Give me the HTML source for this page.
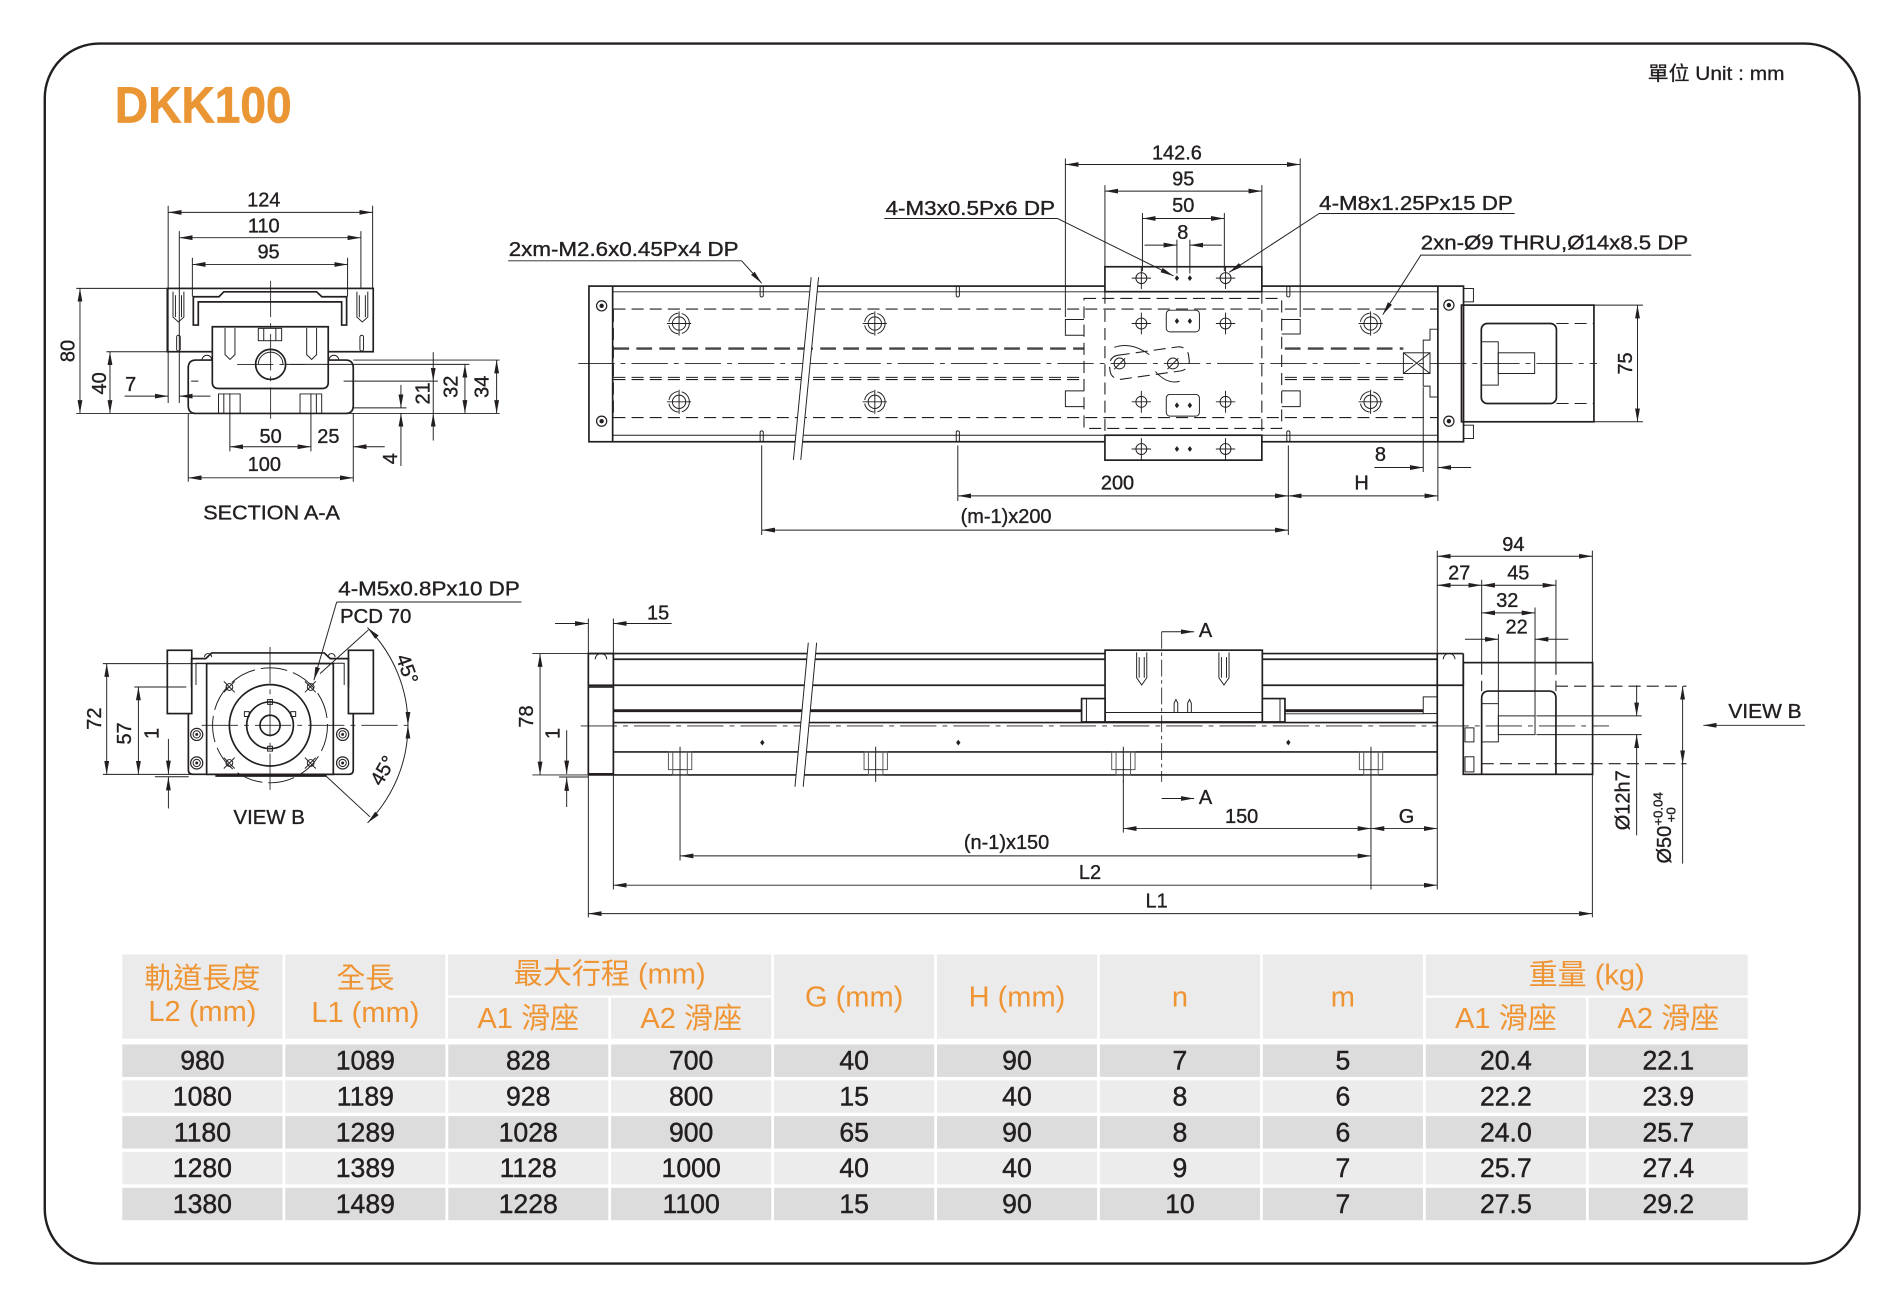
<!DOCTYPE html>
<html><head><meta charset="utf-8">
<style>
html,body{margin:0;padding:0;background:#fff;}
svg{display:block}
text{font-family:"Liberation Sans","Noto Sans CJK TC",sans-serif;fill:#231f20}
.d{font-size:16.5px;text-anchor:middle;dominant-baseline:central;stroke:#231f20;stroke-width:0.3}
.l{font-size:16.5px;stroke:#231f20;stroke-width:0.3}
.o{fill:none;stroke:#231f20;stroke-width:1.4}
.ow{fill:#fff;stroke:#231f20;stroke-width:1.4}
.n{fill:none;stroke:#231f20;stroke-width:0.8}
.g{fill:none;stroke:#555;stroke-width:0.8}
.h{fill:none;stroke:#231f20;stroke-width:0.9;stroke-dasharray:10 5}
.hb{fill:none;stroke:#444;stroke-width:1.9;stroke-dasharray:13 6}
.c{fill:none;stroke:#231f20;stroke-width:0.7;stroke-dasharray:30 5 4 5}
.dm{fill:none;stroke:#231f20;stroke-width:0.8;marker-start:url(#a);marker-end:url(#a)}
.de{fill:none;stroke:#231f20;stroke-width:0.8;marker-end:url(#a)}
.th{font-size:24px;fill:#ef9433;text-anchor:middle;dominant-baseline:central}
.td{font-size:22px;text-anchor:middle;dominant-baseline:central;stroke:#231f20;stroke-width:0.35}
</style></head><body>
<svg width="1897" height="1295" viewBox="0 0 1568 1070" preserveAspectRatio="none" xmlns="http://www.w3.org/2000/svg">
<defs>
<marker id="a" markerUnits="userSpaceOnUse" markerWidth="12" markerHeight="5" refX="11" refY="2" orient="auto-start-reverse"><path d="M0,0L11,2L0,4z" fill="#231f20"/></marker>
<g id="mh" fill="none" stroke="#231f20" stroke-width="0.8"><circle r="5.5"/><circle r="8.5" stroke-dasharray="11 3"/><path d="M-10,0H10M0,-10V10"/></g>
<g id="ch" fill="none" stroke="#231f20" stroke-width="0.8"><circle r="4.5"/><path d="M-8,0H8M0,-9V9"/></g>
<g id="sc"><circle r="4.2" fill="none" stroke="#231f20" stroke-width="1"/><circle r="1.8" fill="#231f20"/></g>
<g id="sc2"><circle r="5" fill="none" stroke="#231f20" stroke-width="1"/><circle r="3" fill="none" stroke="#231f20" stroke-width="0.8"/><circle r="1.2" fill="#231f20"/></g>
<path id="dd" d="M0,-2.4L1.8,0L0,2.4L-1.8,0z" fill="#231f20"/>
<g id="bolt" fill="none" stroke="#555" stroke-width="0.8"><rect x="-9.6" y="0" width="19.3" height="14.6"/><path d="M-6,0V14.6M6,0V14.6"/><rect x="-6" y="14.6" width="12" height="4.4"/></g>
</defs>

<!-- border -->
<rect x="37" y="36" width="1500" height="1008" rx="45" fill="none" stroke="#231f20" stroke-width="2"/>
<text x="95" y="101.4" font-size="42" font-weight="bold" style="fill:#ea9634;stroke:#ea9634;stroke-width:0.6" textLength="146" lengthAdjust="spacingAndGlyphs">DKK100</text>
<text x="1362" y="66" font-size="16" style="stroke:#231f20;stroke-width:0.25" textLength="113" lengthAdjust="spacingAndGlyphs">單位 Unit : mm</text>

<!-- ================= SECTION A-A ================= -->
<g>
<path class="n" d="M139,170V333M308,170V238M148.2,191V333M298.3,191V238M159,213V245M287.3,213V245"/>
<line class="dm" x1="139" y1="175.5" x2="308" y2="175.5"/>
<line class="dm" x1="148.2" y1="196.4" x2="298.3" y2="196.4"/>
<line class="dm" x1="159" y1="218.5" x2="287.3" y2="218.5"/>
<text class="d" x="218" y="165.5">124</text>
<text class="d" x="218" y="187">110</text>
<text class="d" x="222" y="208.5">95</text>
<!-- block -->
<rect class="o" x="138.3" y="238.3" width="170.2" height="52.3"/>
<path class="o" d="M159.8,268.6V245.2H181L185,241.1H261.7L266,245.2H286.5V268.6H282.4V249.4H163.9V268.6Z"/>
<path class="n" d="M143,241V262L147.5,266L152,262V241M145,244V262M150,244V262"/>
<path class="n" d="M295,241V262L299.5,266L304,262V241M297,244V262M302,244V262"/>
<rect class="n" x="146" y="277" width="3" height="13" rx="1.5"/>
<rect class="n" x="297.5" y="277" width="3" height="13" rx="1.5"/>
<!-- base -->
<path class="o" d="M175.5,297.5H162Q155.6,297.5 155.6,304V335Q155.6,341.6 162,341.6H285.6Q292,341.6 292,335V304Q292,297.5 285.6,297.5H271.3"/>
<path class="n" d="M167,297.5A4,4 0 0 1 175,297.5M272,297.5A4,4 0 0 1 280,297.5M158,314.9H164M284,314.9H290"/>
<path class="n" d="M180.6,341.6V325.5H198.5V341.6M185,325.5V341.6M248,341.6V325.5H265.9V341.6M261.5,325.5V341.6"/>
<!-- flange -->
<path class="ow" d="M175.5,270H271.3V316Q271.3,321 266,321H181Q175.5,321 175.5,316Z"/>
<rect class="n" x="213.5" y="271.3" width="19.3" height="10.2"/>
<path class="n" d="M218,271.3V281.5M228,271.3V281.5"/>
<path class="n" d="M186,271V293L190.1,297L194.2,293V271M253.5,271V293L257.6,297L261.7,293V271"/>
<circle class="o" cx="223.7" cy="301.1" r="12.4"/>
<path class="n" d="M213.5,301.1A10.2,10.2 0 0 1 233.9,301.1"/>
<path class="c" d="M223.7,232V346M196,301.1H252"/>
<!-- left dims -->
<path class="n" d="M63,238.3H138M88,290.6H138M63,341.6H413"/>
<line class="dm" x1="66.1" y1="238.3" x2="66.1" y2="341.6"/>
<line class="dm" x1="90.9" y1="290.6" x2="90.9" y2="341.6"/>
<text class="d" transform="rotate(-90 56.5 290)" x="56.5" y="290">80</text>
<text class="d" transform="rotate(-90 82.7 316.8)" x="82.7" y="316.8">40</text>
<line class="de" x1="103" y1="327.3" x2="139" y2="327.3"/>
<line class="de" x1="174" y1="327.3" x2="148.2" y2="327.3"/>
<text class="d" x="108" y="318">7</text>
<!-- right dims -->
<path class="n" d="M292,297.5H413M236,301.1H388M290,314.9H362M292,337H336"/>
<line class="de" x1="331.4" y1="318" x2="331.4" y2="337"/>
<line class="de" x1="331.4" y1="385" x2="331.4" y2="341.6"/>
<text class="d" transform="rotate(-90 323 379)" x="323" y="379">4</text>
<line class="de" x1="358.1" y1="291" x2="358.1" y2="314.9"/>
<line class="de" x1="358.1" y1="364" x2="358.1" y2="341.6"/>
<line class="n" x1="358.1" y1="314.9" x2="358.1" y2="341.6"/>
<text class="d" transform="rotate(-90 349.9 325)" x="349.9" y="325">21</text>
<line class="dm" x1="384.3" y1="301.1" x2="384.3" y2="341.6"/>
<text class="d" transform="rotate(-90 373.3 319.6)" x="373.3" y="319.6">32</text>
<line class="dm" x1="410.5" y1="297.5" x2="410.5" y2="341.6"/>
<text class="d" transform="rotate(-90 398.9 319.6)" x="398.9" y="319.6">34</text>
<!-- bottom dims -->
<path class="n" d="M190,325V373M257,325V373M292,341.6V398M155.6,341.6V398"/>
<line class="dm" x1="190" y1="369.1" x2="257" y2="369.1"/>
<line class="de" x1="318" y1="369.1" x2="292" y2="369.1"/>
<text class="d" x="223.7" y="360.9">50</text>
<text class="d" x="271.4" y="360.9">25</text>
<line class="dm" x1="155.6" y1="394.8" x2="292" y2="394.8"/>
<text class="d" x="218.5" y="384.3">100</text>
<text class="d" x="224.5" y="424.2" font-size="16" textLength="113" lengthAdjust="spacingAndGlyphs">SECTION A-A</text>
</g>

<!-- ================= TOP VIEW ================= -->
<g>
<rect class="o" x="486.8" y="236.4" width="722.9" height="128.6"/>
<path class="o" d="M506.4,236.4V365M1188.5,236.4V365"/>
<path class="n" d="M506.4,241.1H1188.5M506.4,359.6H1188.5"/>
<rect class="n" x="1209.7" y="238.4" width="8.2" height="11"/>
<rect class="n" x="1209.7" y="351.3" width="8.2" height="11"/>
<use href="#sc" x="497.3" y="252.7"/><use href="#sc" x="497.3" y="348"/>
<use href="#sc" x="1197.6" y="252.1"/><use href="#sc" x="1197.6" y="348"/>
<!-- hidden -->
<path class="h" d="M507,255.4H1188M507,345H1188M507,256V345"/>
<path class="hb" d="M507,288H896M1062,288H1160"/>
<path class="h" d="M507,311.8H896M507,313.6H896M1062,311.8H1160M1062,313.6H1160"/>
<path class="c" d="M478,300.3H1320"/>
<use href="#mh" x="561.3" y="267.3"/><use href="#mh" x="561.3" y="332"/>
<use href="#mh" x="723.1" y="267.3"/><use href="#mh" x="723.1" y="332"/>
<use href="#mh" x="1132.9" y="267.3"/><use href="#mh" x="1132.9" y="332"/>
<g class="n">
<rect x="628.3" y="236.4" width="2.6" height="9" rx="1.3"/><rect x="628.3" y="356" width="2.6" height="9" rx="1.3"/>
<rect x="790.4" y="236.4" width="2.6" height="9" rx="1.3"/><rect x="790.4" y="356" width="2.6" height="9" rx="1.3"/>
<rect x="1063.6" y="236.4" width="2.6" height="9" rx="1.3"/><rect x="1063.6" y="356" width="2.6" height="9" rx="1.3"/>
</g>
<!-- break -->
<polygon points="670.5,229 676.6,229 661.9,380 655.8,380" fill="#fff"/>
<path class="n" d="M670.5,229L655.8,380M676.6,229L661.9,380"/>
<!-- carriage -->
<rect class="ow" x="913.3" y="220.4" width="129.7" height="20.6"/>
<rect class="ow" x="913.3" y="359.6" width="129.7" height="20.6"/>
<use href="#ch" x="943.4" y="229.8"/><use href="#ch" x="1013" y="229.8"/>
<use href="#ch" x="943.4" y="371"/><use href="#ch" x="1013" y="371"/>
<use href="#dd" x="972.8" y="229.8"/><use href="#dd" x="983.5" y="229.8"/>
<use href="#dd" x="972.8" y="371"/><use href="#dd" x="983.5" y="371"/>
<path class="h" d="M913.3,241V359.6M1043,241V359.6"/>
<rect class="h" x="896" y="246.6" width="163.4" height="107.4"/>
<path class="n" d="M896,264H880.6V277H896M896,323H880.6V336H896M1059.4,264H1074.7V276H1059.4M1059.4,323H1074.7V336H1059.4"/>
<use href="#ch" x="943.4" y="267.3"/><use href="#ch" x="1013" y="267.3"/>
<use href="#ch" x="943.4" y="332"/><use href="#ch" x="1013" y="332"/>
<rect class="n" x="964" y="256.3" width="27.4" height="17.9" rx="3"/>
<rect class="n" x="964" y="325.9" width="27.4" height="17.9" rx="3"/>
<use href="#dd" x="972.8" y="265.3"/><use href="#dd" x="983.5" y="265.3"/>
<use href="#dd" x="972.8" y="334.9"/><use href="#dd" x="983.5" y="334.9"/>
<rect class="h" x="917" y="290" width="66" height="20" rx="8" transform="rotate(-8 950 300)"/>
<path class="n" d="M921,287Q935,282 950,293M955,307Q965,318 975,315"/>
<circle class="n" cx="925.4" cy="300.3" r="4.5"/><circle class="n" cx="969.5" cy="300.3" r="4.5"/>
<path class="n" d="M921,305L930,296M965,305L974,296"/>
<!-- bearing / bracket -->
<rect class="n" x="1160" y="291.5" width="22" height="17.1"/>
<path class="n" d="M1160,291.5L1182,308.6M1182,291.5L1160,308.6"/>
<path class="n" d="M1188.5,272H1182V281H1176.4V319H1182V328H1188.5"/>
<!-- motor -->
<rect class="o" x="1208" y="252.1" width="109.5" height="96.4"/>
<rect class="o" x="1224.4" y="267.3" width="62.1" height="66.1" rx="5"/>
<rect class="n" x="1224.4" y="282.4" width="14" height="35.8"/>
<rect class="n" x="1238.4" y="291.5" width="30.1" height="17.1"/>
<path class="h" d="M1286.5,267.3H1317.5M1286.5,333.4H1317.5"/>
<!-- dims -->
<path class="n" d="M880.6,131V262M1074.7,131V262M913.3,153V220.4M1043,153V220.4M944.3,176V224M1012,176V224M972.8,198V226M983.5,198V226"/>
<line class="dm" x1="880.6" y1="135.9" x2="1074.7" y2="135.9"/>
<line class="dm" x1="913.3" y1="157.9" x2="1043" y2="157.9"/>
<line class="dm" x1="944.3" y1="180.5" x2="1012" y2="180.5"/>
<line class="de" x1="946" y1="202.5" x2="972.8" y2="202.5"/>
<line class="de" x1="1010" y1="202.5" x2="983.5" y2="202.5"/>
<text class="d" x="972.8" y="126.8">142.6</text>
<text class="d" x="978" y="148.3">95</text>
<text class="d" x="978" y="170.3">50</text>
<text class="d" x="977.7" y="192.6">8</text>
<text class="l" x="732" y="177.7" textLength="140" lengthAdjust="spacingAndGlyphs">4-M3x0.5Px6 DP</text>
<path class="n" d="M731,180.5H874"/>
<line class="de" x1="874" y1="180.5" x2="970" y2="228"/>
<text class="l" x="1090.4" y="173.6" textLength="160" lengthAdjust="spacingAndGlyphs">4-M8x1.25Px15 DP</text>
<path class="n" d="M1090,176.4H1252"/>
<line class="de" x1="1090.4" y1="176.4" x2="1016" y2="225"/>
<text class="l" x="1174.4" y="206.1" textLength="221" lengthAdjust="spacingAndGlyphs">2xn-Ø9 THRU,Ø14x8.5 DP</text>
<path class="n" d="M1174,210.8H1398"/>
<line class="de" x1="1174.4" y1="210.8" x2="1143" y2="260"/>
<text class="l" x="420.5" y="211.6" textLength="190" lengthAdjust="spacingAndGlyphs">2xm-M2.6x0.45Px4 DP</text>
<path class="n" d="M420,215.5H613"/>
<line class="de" x1="613" y1="215.5" x2="629.6" y2="234"/>
<path class="n" d="M1317.5,252.1H1358M1317.5,348.5H1358"/>
<line class="dm" x1="1353.5" y1="252.1" x2="1353.5" y2="348.5"/>
<text class="d" transform="rotate(-90 1344 300.3)" x="1344" y="300.3">75</text>
<path class="n" d="M1176.4,320V390M1188.5,365V414M629.6,368V442M791.7,368V414M1064.9,368V442"/>
<line class="de" x1="1136" y1="386.3" x2="1176.4" y2="386.3"/>
<line class="de" x1="1216" y1="386.3" x2="1188.5" y2="386.3"/>
<text class="d" x="1141" y="376">8</text>
<line class="dm" x1="791.7" y1="409.7" x2="1064.9" y2="409.7"/>
<line class="dm" x1="1064.9" y1="409.7" x2="1188.5" y2="409.7"/>
<text class="d" x="923.7" y="399.5">200</text>
<text class="d" x="1125.4" y="399.5">H</text>
<line class="dm" x1="629.6" y1="438" x2="1064.9" y2="438"/>
<text class="d" x="831.6" y="427">(m-1)x200</text>
</g>

<!-- ================= VIEW B ================= -->
<g>
<rect class="o" x="138.3" y="537.3" width="20.2" height="52.3"/>
<rect class="o" x="288" y="537.3" width="20.6" height="52.3"/>
<path class="o" d="M158.4,568V544.2H170L175,539.5H268L273,544.2H288V568"/>
<path class="n" d="M162,566V548H284.5V566"/>
<path class="n" d="M169,543A3,3 0 0 1 175,543M271,543A3,3 0 0 1 277,543"/>
<path class="o" d="M155.7,589.6V636Q155.7,639.8 159.5,639.8H288.2Q292,639.8 292,636V589.6"/>
<rect class="o" x="170.8" y="548.3" width="104.7" height="91.5"/>
<path fill="none" stroke="#231f20" stroke-width="2.2" d="M178,640.8H270"/>
<circle cx="223.2" cy="599.3" r="47.5" fill="none" stroke="#231f20" stroke-width="0.8" stroke-dasharray="22 5"/>
<circle class="o" cx="223.2" cy="599.3" r="33.6"/>
<circle class="o" cx="223.2" cy="599.3" r="19.3"/>
<circle class="o" cx="223.2" cy="599.3" r="8.3"/>
<g class="n"><rect x="221.2" y="578" width="4" height="4"/><rect x="221.2" y="616.6" width="4" height="4"/><rect x="202" y="588" width="4" height="4"/><rect x="240.4" y="588" width="4" height="4"/></g>
<g class="n">
<circle cx="189.6" cy="567.6" r="2.8"/><circle cx="256.8" cy="567.6" r="2.8"/><circle cx="189.6" cy="630.4" r="2.8"/><circle cx="256.8" cy="630.4" r="2.8"/>
<path d="M185,563L194,572M194,563L185,572M252,563L261,572M261,563L252,572M185,626L194,635M194,626L185,635M252,626L261,635M261,626L252,635"/>
</g>
<use href="#sc2" x="162.6" y="606.8"/><use href="#sc2" x="162.6" y="630.4"/>
<use href="#sc2" x="283.2" y="606.8"/><use href="#sc2" x="283.2" y="630.4"/>
<path class="c" d="M223.2,534.6V653M166.7,599.3H339"/>
<!-- dims -->
<path class="n" d="M85,548.3H172M111,567.6H154M85,639.8H160M128,641.8H156"/>
<line class="dm" x1="88.2" y1="548.3" x2="88.2" y2="639.8"/>
<text class="d" transform="rotate(-90 78.5 593.8)" x="78.5" y="593.8">72</text>
<line class="dm" x1="114.4" y1="567.6" x2="114.4" y2="639.8"/>
<text class="d" transform="rotate(-90 103.3 606)" x="103.3" y="606">57</text>
<line class="de" x1="139.2" y1="610.5" x2="139.2" y2="639.5"/>
<line class="de" x1="139.2" y1="668" x2="139.2" y2="642"/>
<text class="d" transform="rotate(-90 126 606)" x="126" y="606">1</text>
<path class="n" d="M264.5,556.6L304.5,520.5M267.3,639.2L305.9,675"/>
<path class="dm" d="M303.8,518.7A114,114 0 0 1 337.2,599.3"/>
<path class="dm" d="M337.2,599.3A114,114 0 0 1 303.8,679.9"/>
<text class="d" transform="rotate(70 336 553)" x="336" y="553">45°</text>
<text class="d" transform="rotate(-60 317 637)" x="317" y="637">45°</text>
<text class="l" x="279.6" y="491.9" textLength="150" lengthAdjust="spacingAndGlyphs">4-M5x0.8Px10 DP</text>
<path class="n" d="M278.3,497.4H431"/>
<text class="l" x="281" y="514.7" textLength="59" lengthAdjust="spacingAndGlyphs">PCD 70</text>
<line class="de" x1="278.3" y1="497.4" x2="259.5" y2="562"/>
<text class="d" x="222.5" y="676" textLength="59" lengthAdjust="spacingAndGlyphs">VIEW B</text>
</g>

<!-- ================= SIDE VIEW ================= -->
<g>
<rect class="o" x="486.3" y="540" width="20.7" height="26.2"/>
<rect class="o" x="486.3" y="567.6" width="20.7" height="71.8"/>
<path class="n" d="M492,544.7A4.7,4.7 0 0 1 501.5,544.7"/>
<path class="o" d="M486.3,540H913.4M1043.4,540H1209.5M507,544.7H913.4M1043.4,544.7H1188M507,566.2H913.4M1043.4,566.2H1209.5"/>
<path class="o" d="M1188,540V640.3M1209.5,540V567"/>
<path class="n" d="M1193,544.7A4.8,4.8 0 0 1 1202.6,544.7"/>
<path fill="none" stroke="#231f20" stroke-width="2.4" d="M507,587.2H894M1062,587.2H1176.4"/>
<path class="n" d="M1062,589.8H1176.4"/>
<rect class="n" x="1176.4" y="575.8" width="11.6" height="13.8"/>
<path class="o" d="M507,597H1188M507,621.3H1188M486.3,640.3H1188"/>
<path class="c" d="M480,599.8H1330"/>
<use href="#dd" x="630.1" y="613.6"/><use href="#dd" x="792.1" y="613.6"/><use href="#dd" x="1064.9" y="613.5"/>
<use href="#bolt" x="562.1" y="621.3"/><use href="#bolt" x="723.8" y="621.3"/>
<use href="#bolt" x="928.5" y="621.3"/><use href="#bolt" x="1133.2" y="621.3"/>
<path class="n" d="M562.1,617V646M723.8,617V646M928.5,617V646M1133.2,617V646"/>
<!-- break -->
<polygon points="668.1,531 675,531 663.9,650 657.1,650" fill="#fff"/>
<path class="n" d="M668.1,531L657.1,650M675,531L663.9,650"/>
<!-- carriage -->
<rect class="ow" x="913.4" y="537.2" width="130" height="59.3"/>
<path class="n" d="M913.4,588.7H1043.4"/>
<rect class="ow" x="894" y="577.2" width="19.4" height="19.3"/>
<rect class="ow" x="1043.4" y="577.2" width="18.7" height="19.3"/>
<path class="n" d="M898,577.2V596.5M1058,577.2V596.5"/>
<path class="n" d="M939.5,539V560L943.7,566L947.9,560V539M941.6,543V560M945.8,543V560"/>
<path class="n" d="M1007.5,539V560L1011.7,566L1015.9,560V539M1009.6,543V560M1013.8,543V560"/>
<path class="n" d="M970.5,589V581L972,578L973.5,581V589M981.7,589V581L983.2,578L984.7,581V589"/>
<path fill="none" stroke="#231f20" stroke-width="0.7" stroke-dasharray="14 3 3 3" d="M960.2,522V646"/>
<line class="de" x1="960.2" y1="522" x2="987" y2="522"/>
<line class="de" x1="960.2" y1="659.8" x2="987" y2="659.8"/>
<text class="d" x="996.5" y="521.5">A</text>
<text class="d" x="996.5" y="659.3">A</text>
<!-- motor -->
<rect class="o" x="1209.5" y="547.5" width="106.9" height="92.3"/>
<path class="o" d="M1224.7,639.8V577Q1224.7,571 1231,571H1280Q1286.1,571 1286.1,577V639.8"/>
<path class="h" d="M1224.7,547.5V571M1286.1,547.5V571"/>
<rect class="n" x="1224.7" y="581.4" width="13.8" height="31.6"/>
<rect class="n" x="1238.5" y="591.5" width="30.3" height="15.5"/>
<rect class="n" x="1210.9" y="601.4" width="7.4" height="11.6"/>
<rect class="n" x="1210.9" y="625.3" width="7.4" height="12.5"/>
<path class="h" d="M1286.1,567H1394M1224.7,631H1394"/>
<path class="n" d="M1270,591.5H1357M1270,607H1357"/>
<!-- dims -->
<path class="n" d="M486.3,511V758M507,511V735M440,540H486M440,640.3H486M462,642H486M562.1,645V711M928.5,645V688M1133.2,645V735M1188,455V735M1316.2,455V547.5M1316.2,639.8V758"/>
<line class="de" x1="458.8" y1="515.2" x2="486.3" y2="515.2"/>
<line class="de" x1="555.2" y1="515.2" x2="507" y2="515.2"/>
<text class="d" x="544" y="507">15</text>
<line class="dm" x1="446.4" y1="540" x2="446.4" y2="640.3"/>
<text class="d" transform="rotate(-90 435.5 592)" x="435.5" y="592">78</text>
<line class="de" x1="468.4" y1="603.4" x2="468.4" y2="639.5"/>
<line class="de" x1="468.4" y1="666.8" x2="468.4" y2="642.5"/>
<text class="d" transform="rotate(-90 457.5 606)" x="457.5" y="606">1</text>
<line class="dm" x1="928.5" y1="684.6" x2="1133.2" y2="684.6"/>
<line class="dm" x1="1133.2" y1="684.6" x2="1188" y2="684.6"/>
<text class="d" x="1026.3" y="675">150</text>
<text class="d" x="1162.6" y="675">G</text>
<line class="dm" x1="562.1" y1="707.2" x2="1133.2" y2="707.2"/>
<text class="d" x="832" y="696.5">(n-1)x150</text>
<line class="dm" x1="507" y1="731.4" x2="1188" y2="731.4"/>
<text class="d" x="901" y="721.5">L2</text>
<line class="dm" x1="486.3" y1="754.9" x2="1316.2" y2="754.9"/>
<text class="d" x="956" y="745">L1</text>
<line class="dm" x1="1188" y1="459.6" x2="1316.2" y2="459.6"/>
<text class="d" x="1250.9" y="450.5">94</text>
<path class="n" d="M1224.7,479V547.5M1286.1,479V547.5M1238.5,524V581.4M1268.8,502V591.5"/>
<line class="dm" x1="1188" y1="483.6" x2="1224.7" y2="483.6"/>
<line class="dm" x1="1224.7" y1="483.6" x2="1286.1" y2="483.6"/>
<text class="d" x="1206.2" y="473.9">27</text>
<text class="d" x="1255" y="473.9">45</text>
<line class="dm" x1="1224.7" y1="506.4" x2="1268.8" y2="506.4"/>
<text class="d" x="1245.9" y="496.5">32</text>
<line class="de" x1="1210.9" y1="528.2" x2="1238.5" y2="528.2"/>
<line class="de" x1="1296.3" y1="528.2" x2="1268.8" y2="528.2"/>
<text class="d" x="1253.6" y="518.5">22</text>
<line class="de" x1="1352.8" y1="566.2" x2="1352.8" y2="591.5"/>
<line class="de" x1="1352.8" y1="631" x2="1352.8" y2="607"/>
<path class="n" d="M1352.8,631V690.2"/>
<text class="d" transform="rotate(-90 1341.8 661.2)" x="1341.8" y="661.2">Ø12h7</text>
<line class="dm" x1="1390.8" y1="567" x2="1390.8" y2="631"/>
<path class="n" d="M1390.8,631V713.6"/>
<text transform="rotate(-90 1381 713.5)" x="1381" y="713.5" font-size="16.5" style="stroke:#231f20;stroke-width:0.3">Ø50<tspan font-size="11" dy="-7">+0.04</tspan><tspan font-size="11" dx="-25" dy="11">+0</tspan></text>
<line class="de" x1="1491.9" y1="599.3" x2="1407.9" y2="599.3"/>
<text class="l" x="1428.6" y="593.2" textLength="60.6" lengthAdjust="spacingAndGlyphs">VIEW B</text>
</g>

<!-- ================= TABLE ================= -->
<g>
<!-- header -->
<rect x="101.1" y="788.6" width="132.4" height="69.7" fill="#ebebeb"/>
<rect x="235.8" y="788.6" width="132.4" height="69.7" fill="#ebebeb"/>
<rect x="370.4" y="788.6" width="267.1" height="33.9" fill="#ebebeb"/>
<rect x="370.4" y="824.4" width="132.4" height="33.9" fill="#ebebeb"/>
<rect x="505.1" y="824.4" width="132.4" height="33.9" fill="#ebebeb"/>
<rect x="639.8" y="788.6" width="132.4" height="69.7" fill="#ebebeb"/>
<rect x="774.4" y="788.6" width="132.4" height="69.7" fill="#ebebeb"/>
<rect x="909.1" y="788.6" width="132.4" height="69.7" fill="#ebebeb"/>
<rect x="1043.8" y="788.6" width="132.4" height="69.7" fill="#ebebeb"/>
<rect x="1178.5" y="788.6" width="266.1" height="33.9" fill="#ebebeb"/>
<rect x="1178.5" y="824.4" width="132.4" height="33.9" fill="#ebebeb"/>
<rect x="1313.1" y="824.4" width="131.5" height="33.9" fill="#ebebeb"/>
<text class="th" x="167.3" y="809">軌道長度</text>
<text class="th" x="167.3" y="836">L2 (mm)</text>
<text class="th" x="302" y="809">全長</text>
<text class="th" x="302" y="837">L1 (mm)</text>
<text class="th" x="504" y="805">最大行程 (mm)</text>
<text class="th" x="436.6" y="842">A1 滑座</text>
<text class="th" x="571.3" y="842">A2 滑座</text>
<text class="th" x="706" y="824">G (mm)</text>
<text class="th" x="840.6" y="824">H (mm)</text>
<text class="th" x="975.3" y="824">n</text>
<text class="th" x="1110" y="824">m</text>
<text class="th" x="1311.5" y="806">重量 (kg)</text>
<text class="th" x="1244.7" y="842">A1 滑座</text>
<text class="th" x="1379" y="842">A2 滑座</text>
<!-- rows -->
<g fill="#dcdcdc">
<rect x="101.1" y="863" width="1343.5" height="26.8"/>
<rect x="101.1" y="922.2" width="1343.5" height="26.8"/>
<rect x="101.1" y="981.4" width="1343.5" height="26.8"/>
</g>
<g fill="#ececec">
<rect x="101.1" y="892.6" width="1343.5" height="26.8"/>
<rect x="101.1" y="951.8" width="1343.5" height="26.8"/>
</g>
<g fill="#fff">
<rect x="233.5" y="860" width="2.3" height="150"/>
<rect x="368.2" y="860" width="2.3" height="150"/>
<rect x="502.8" y="860" width="2.3" height="150"/>
<rect x="637.5" y="860" width="2.3" height="150"/>
<rect x="772.2" y="860" width="2.3" height="150"/>
<rect x="906.8" y="860" width="2.3" height="150"/>
<rect x="1041.5" y="860" width="2.3" height="150"/>
<rect x="1176.2" y="860" width="2.3" height="150"/>
<rect x="1310.9" y="860" width="2.3" height="150"/>
</g>
<g>
<text class="td" x="167.3" y="876.4">980</text><text class="td" x="302" y="876.4">1089</text><text class="td" x="436.6" y="876.4">828</text><text class="td" x="571.3" y="876.4">700</text><text class="td" x="706" y="876.4">40</text><text class="td" x="840.6" y="876.4">90</text><text class="td" x="975.3" y="876.4">7</text><text class="td" x="1110" y="876.4">5</text><text class="td" x="1244.7" y="876.4">20.4</text><text class="td" x="1379" y="876.4">22.1</text>
<text class="td" x="167.3" y="906">1080</text><text class="td" x="302" y="906">1189</text><text class="td" x="436.6" y="906">928</text><text class="td" x="571.3" y="906">800</text><text class="td" x="706" y="906">15</text><text class="td" x="840.6" y="906">40</text><text class="td" x="975.3" y="906">8</text><text class="td" x="1110" y="906">6</text><text class="td" x="1244.7" y="906">22.2</text><text class="td" x="1379" y="906">23.9</text>
<text class="td" x="167.3" y="935.6">1180</text><text class="td" x="302" y="935.6">1289</text><text class="td" x="436.6" y="935.6">1028</text><text class="td" x="571.3" y="935.6">900</text><text class="td" x="706" y="935.6">65</text><text class="td" x="840.6" y="935.6">90</text><text class="td" x="975.3" y="935.6">8</text><text class="td" x="1110" y="935.6">6</text><text class="td" x="1244.7" y="935.6">24.0</text><text class="td" x="1379" y="935.6">25.7</text>
<text class="td" x="167.3" y="965.2">1280</text><text class="td" x="302" y="965.2">1389</text><text class="td" x="436.6" y="965.2">1128</text><text class="td" x="571.3" y="965.2">1000</text><text class="td" x="706" y="965.2">40</text><text class="td" x="840.6" y="965.2">40</text><text class="td" x="975.3" y="965.2">9</text><text class="td" x="1110" y="965.2">7</text><text class="td" x="1244.7" y="965.2">25.7</text><text class="td" x="1379" y="965.2">27.4</text>
<text class="td" x="167.3" y="994.8">1380</text><text class="td" x="302" y="994.8">1489</text><text class="td" x="436.6" y="994.8">1228</text><text class="td" x="571.3" y="994.8">1100</text><text class="td" x="706" y="994.8">15</text><text class="td" x="840.6" y="994.8">90</text><text class="td" x="975.3" y="994.8">10</text><text class="td" x="1110" y="994.8">7</text><text class="td" x="1244.7" y="994.8">27.5</text><text class="td" x="1379" y="994.8">29.2</text>
</g>
</g>
</svg>
</body></html>
